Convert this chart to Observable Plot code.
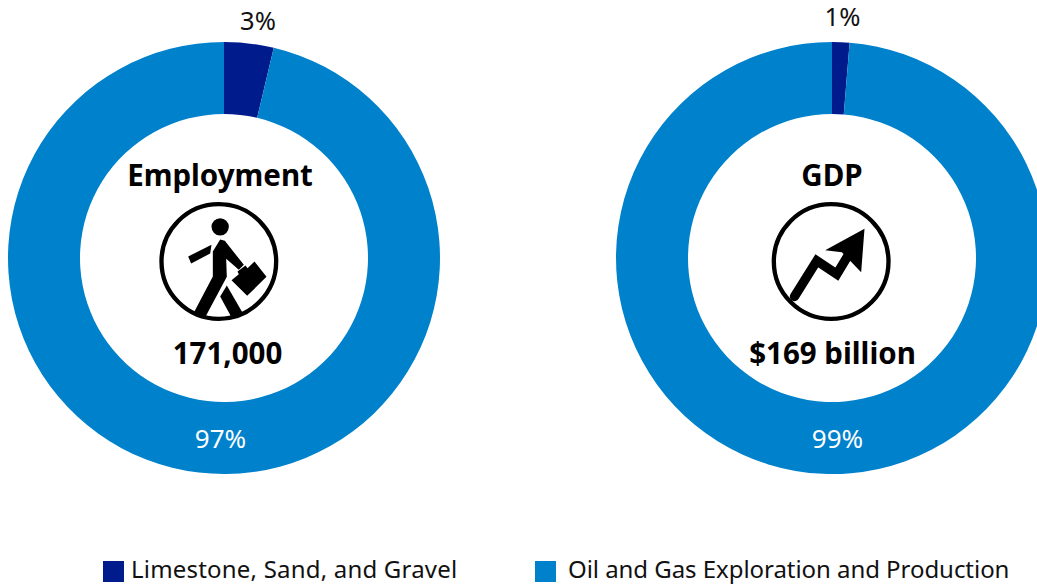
<!DOCTYPE html>
<html>
<head>
<meta charset="utf-8">
<script src="https://cdn.jsdelivr.net/npm/d3@7"></script>
<script src="https://cdn.jsdelivr.net/npm/@observablehq/plot@0.6"></script>
<style>
html,body{margin:0;padding:0;background:#fff;overflow:hidden}
body{width:1037px;height:584px;font-family:"Noto Sans",sans-serif;position:relative}
#legend{position:relative;height:29px;color:#111;font-size:24px;line-height:27px}
#legend span{position:absolute;white-space:nowrap;top:0}
#legend i{position:absolute;top:6px;width:21px;height:21px}
</style>
</head>
<body>
<div id="chart"></div>
<div id="legend"></div>
<script>
const segments = ["Limestone, Sand, and Gravel", "Oil and Gas Exploration and Production"];
const colors = ["#001c8c", "#0081cc"];
const panels = ["Employment", "GDP"];
const employmentShares = [3.7, 96.3];
const gdpShares = [1.3, 98.7];
const employmentLabels = ["3%", "97%"];
const gdpLabels = ["1%", "99%"];
const totals = ["171,000", "$169 billion"];

const wedges = panels.flatMap((panel, p) => {
  const shares = p === 0 ? employmentShares : gdpShares;
  const labels = p === 0 ? employmentLabels : gdpLabels;
  const pie = d3.pie().sort(null)(shares);
  return segments.map((segment, i) => ({panel, segment, label: labels[i], startAngle: pie[i].startAngle, endAngle: pie[i].endAngle}));
});

const arc = d3.arc().innerRadius(144).outerRadius(216);
function renderArcs(index, scales, values) {
  const g = d3.create("svg:g");
  for (const i of index) {
    g.append("path")
      .attr("transform", `translate(${values.x[i]},${values.y[i]})`)
      .attr("d", arc({startAngle: wedges[i].startAngle, endAngle: wedges[i].endAngle}))
      .attr("fill", values.fill[i]);
  }
  return g.node();
}

const personIcon = `<circle cx="208" cy="180" r="172" fill="#fff" stroke="#000" stroke-width="13"/>
<circle cx="212" cy="76" r="26"/>
<path d="M212 114L226 118L283 190L268 205L230 172L232 226L168 346L132 335L190 225L190 150Z"/>
<path d="M232 252L280 335L245 346L212 285Z"/>
<path d="M186 130L116 165L125 186L182 156Z"/>
<path d="M246 236L268 218L264 210L288 192L294 200L315 180L351 226L293 283Z"/>`;
const arrowIcon = `<circle cx="215" cy="180" r="172" fill="#fff" stroke="#000" stroke-width="13"/>
<path d="M105 285L172 178L232 218L270 155" fill="none" stroke="#000" stroke-width="28" stroke-linecap="round"/>
<path d="M315 82L197 146L247 152L305 212Z"/>`;
const uri = body => "data:image/svg+xml," + encodeURIComponent(`<svg xmlns="http://www.w3.org/2000/svg" viewBox="0 0 420 390">${body}</svg>`);
const icons = [uri(personIcon), uri(arrowIcon)];
const iconRows = panels.map((panel, i) => ({panel, src: icons[i]}));
const totalRows = panels.map((panel, i) => ({panel, total: totals[i]}));

const font = {fontFamily: '"Noto Sans", sans-serif'};
const rows = panels.map(panel => wedges.filter(d => d.panel === panel));
const only = (list, i) => [list[i]];

const chart = Plot.plot({
  width: 1037,
  height: 555,
  margin: 0,
  style: {overflow: "hidden", background: "#fff"},
  x: {type: "point", domain: panels, range: [224, 832], padding: 0, axis: null},
  y: {type: "linear", domain: [0, 555], range: [0, 555], axis: null},
  color: {type: "ordinal", domain: segments, range: colors},
  marks: [
    Plot.dot(wedges, {x: "panel", y: () => 258, fill: "segment", render: renderArcs}),
    Plot.image(only(iconRows, 0), {x: "panel", y: () => 265, width: 140, height: 130, src: "src", dx: -5, dy: 1, preserveAspectRatio: "none"}),
    Plot.image(only(iconRows, 1), {x: "panel", y: () => 265, width: 140, height: 130, src: "src", dx: -3, dy: 1, preserveAspectRatio: "none"}),
    Plot.text(only(panels, 0), {x: d => d, y: () => 176, text: d => d, dx: -4.5, ...font, fontSize: 29.5, fontWeight: 700, fill: "#000"}),
    Plot.text(only(panels, 1), {x: d => d, y: () => 176, text: d => d, dx: -0.5, ...font, fontSize: 29.5, fontWeight: 700, fill: "#000"}),
    Plot.text(only(totalRows, 0), {x: "panel", y: () => 354, text: "total", dx: 3, ...font, fontSize: 29.5, fontWeight: 700, fill: "#000"}),
    Plot.text(only(totalRows, 1), {x: "panel", y: () => 354, text: "total", dx: 0, ...font, fontSize: 29.5, fontWeight: 700, fill: "#000"}),
    Plot.text([rows[0][0]], {x: "panel", y: () => 21, text: "label", dx: 33.5, ...font, fontSize: 25.5, fill: "#111"}),
    Plot.text([rows[1][0]], {x: "panel", y: () => 17, text: "label", dx: 10, ...font, fontSize: 25.5, fill: "#111"}),
    Plot.text([rows[0][1]], {x: "panel", y: () => 439, text: "label", dx: -4, ...font, fontSize: 26, fill: "#fff"}),
    Plot.text([rows[1][1]], {x: "panel", y: () => 439, text: "label", dx: 5, ...font, fontSize: 26, fill: "#fff"})
  ]
});
document.getElementById("chart").appendChild(chart);
chart.style.display = "block";

const legend = document.getElementById("legend");
const swatchX = [103, 535];
const textX = [131, 568];
const tracking = ["0.2px", "-0.05px"];
segments.forEach((s, i) => {
  const sw = document.createElement("i");
  sw.style.left = swatchX[i] + "px";
  sw.style.background = colors[i];
  legend.appendChild(sw);
  const t = document.createElement("span");
  t.style.left = textX[i] + "px";
  t.style.letterSpacing = tracking[i];
  t.textContent = s;
  legend.appendChild(t);
});
</script>
</body>
</html>
